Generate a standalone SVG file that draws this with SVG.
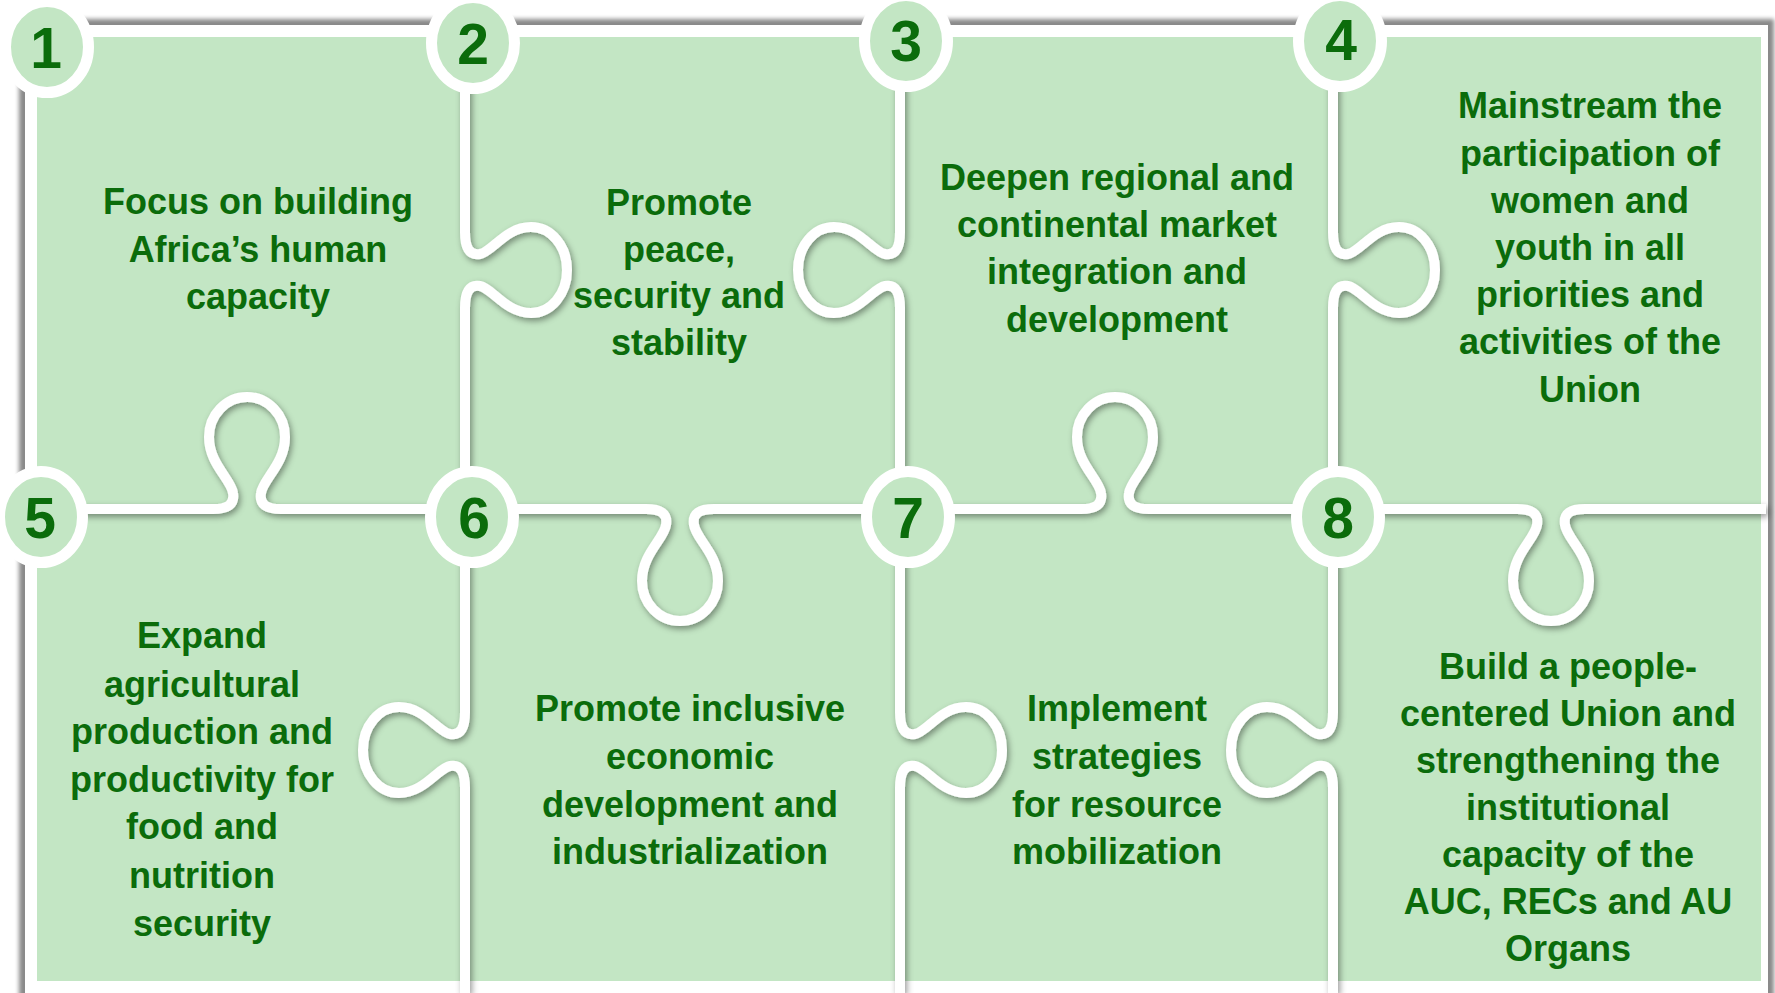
<svg xmlns="http://www.w3.org/2000/svg" width="1775" height="993" viewBox="0 0 1775 993">
<style>
.txt{font-family:"Liberation Sans",Arial,sans-serif;font-weight:bold;font-size:36px;fill:#0b6c0b;text-anchor:middle}
.num{font-family:"Liberation Sans",Arial,sans-serif;font-weight:bold;font-size:57px;fill:#0b6c0b;text-anchor:middle}
.badge{fill:#c3e6c4;stroke:#fff;stroke-width:11}
.seam{fill:none;stroke:#fff;stroke-width:10;stroke-linejoin:round;stroke-linecap:butt}
</style>
<defs>
<filter id="frameBlur" x="-5%" y="-5%" width="110%" height="110%">
<feGaussianBlur stdDeviation="2"/>
</filter>
<filter id="seamShadow" x="-5%" y="-5%" width="110%" height="110%">
<feDropShadow dx="2" dy="3" stdDeviation="3" flood-color="#000" flood-opacity="0.4"/>
</filter>
</defs>
<rect width="1775" height="993" fill="#fff"/>
<rect x="19" y="19" width="1755" height="1010" fill="#8a8a8a" filter="url(#frameBlur)"/>
<rect x="25" y="25" width="1743" height="1010" fill="#fff"/>
<rect x="37" y="37" width="1724" height="944" fill="#c3e6c4"/>

<g id="connectors" filter="url(#seamShadow)">
<path class="seam" d="M465 80 L465 232 C465 247 469 256 480 254 C492 252 506 227 531 227 C551 227 567 246 567 270 C567 294 551 313 531 313 C506 313 492 288 480 286 C469 284 465 293 465 308 L465 712 C465 727 461 736 450 734 C438 732 424 707 399 707 C379 707 363 726 363 750 C363 774 379 793 399 793 C424 793 438 768 450 766 C461 764 465 773 465 788 L465 993"/>
<path class="seam" d="M900 80 L900 232 C900 247 896 256 885 254 C873 252 859 227 834 227 C814 227 798 246 798 270 C798 294 814 313 834 313 C859 313 873 288 885 286 C896 284 900 293 900 308 L900 712 C900 727 904 736 915 734 C927 732 941 707 966 707 C986 707 1002 726 1002 750 C1002 774 986 793 966 793 C941 793 927 768 915 766 C904 764 900 773 900 788 L900 993"/>
<path class="seam" d="M1333 80 L1333 232 C1333 247 1337 256 1348 254 C1360 252 1374 227 1399 227 C1419 227 1435 246 1435 270 C1435 294 1419 313 1399 313 C1374 313 1360 288 1348 286 C1337 284 1333 293 1333 308 L1333 712 C1333 727 1329 736 1318 734 C1306 732 1292 707 1267 707 C1247 707 1231 726 1231 750 C1231 774 1247 793 1267 793 C1292 793 1306 768 1318 766 C1329 764 1333 773 1333 788 L1333 993"/>
<path class="seam" d="M30 509 L213 509 C227 509 235 505 233 493 C231 479 209 464 209 437 C209 415 226 397 247 397 C268 397 285 415 285 437 C285 464 263 479 261 493 C259 505 267 509 281 509 L646 509 C660 509 668 513 666 525 C664 539 642 554 642 581 C642 603 659 621 680 621 C701 621 718 603 718 581 C718 554 696 539 694 525 C692 513 700 509 714 509 L1081 509 C1095 509 1103 505 1101 493 C1099 479 1077 464 1077 437 C1077 415 1094 397 1115 397 C1136 397 1153 415 1153 437 C1153 464 1131 479 1129 493 C1127 505 1135 509 1149 509 L1517 509 C1531 509 1539 513 1537 525 C1535 539 1513 554 1513 581 C1513 603 1530 621 1551 621 C1572 621 1589 603 1589 581 C1589 554 1567 539 1565 525 C1563 513 1571 509 1585 509 L1766 509"/>
</g>

<g id="piece1">
<text class="txt"><tspan x="258" y="214">Focus on building</tspan><tspan x="258" y="262">Africa’s human</tspan><tspan x="258" y="309">capacity</tspan></text>
<ellipse class="badge" cx="47" cy="47" rx="41.5" ry="45.5"/>
<text class="num" x="46" y="68">1</text>
</g>
<g id="piece2">
<text class="txt"><tspan x="679" y="215">Promote</tspan><tspan x="679" y="262">peace,</tspan><tspan x="679" y="308">security and</tspan><tspan x="679" y="355">stability</tspan></text>
<ellipse class="badge" cx="473" cy="43" rx="41.5" ry="45.5"/>
<text class="num" x="473" y="64">2</text>
</g>
<g id="piece3">
<text class="txt"><tspan x="1117" y="190">Deepen regional and</tspan><tspan x="1117" y="237">continental market</tspan><tspan x="1117" y="284">integration and</tspan><tspan x="1117" y="332">development</tspan></text>
<ellipse class="badge" cx="906" cy="41" rx="41.5" ry="45.5"/>
<text class="num" x="906" y="61">3</text>
</g>
<g id="piece4">
<text class="txt"><tspan x="1590" y="118">Mainstream the</tspan><tspan x="1590" y="166">participation of</tspan><tspan x="1590" y="213">women and</tspan><tspan x="1590" y="260">youth in all</tspan><tspan x="1590" y="307">priorities and</tspan><tspan x="1590" y="354">activities of the</tspan><tspan x="1590" y="402">Union</tspan></text>
<ellipse class="badge" cx="1340" cy="41" rx="41.5" ry="45.5"/>
<text class="num" x="1341" y="60">4</text>
</g>
<g id="piece5">
<text class="txt"><tspan x="202" y="648">Expand</tspan><tspan x="202" y="697">agricultural</tspan><tspan x="202" y="744">production and</tspan><tspan x="202" y="792">productivity for</tspan><tspan x="202" y="839">food and</tspan><tspan x="202" y="888">nutrition</tspan><tspan x="202" y="936">security</tspan></text>
<ellipse class="badge" cx="41" cy="517" rx="41.5" ry="45.5"/>
<text class="num" x="40" y="538">5</text>
</g>
<g id="piece6">
<text class="txt"><tspan x="690" y="721">Promote inclusive</tspan><tspan x="690" y="769">economic</tspan><tspan x="690" y="817">development and</tspan><tspan x="690" y="864">industrialization</tspan></text>
<ellipse class="badge" cx="472" cy="517" rx="41.5" ry="45.5"/>
<text class="num" x="474" y="538">6</text>
</g>
<g id="piece7">
<text class="txt"><tspan x="1117" y="721">Implement</tspan><tspan x="1117" y="769">strategies</tspan><tspan x="1117" y="817">for resource</tspan><tspan x="1117" y="864">mobilization</tspan></text>
<ellipse class="badge" cx="908" cy="517" rx="41.5" ry="45.5"/>
<text class="num" x="908" y="538">7</text>
</g>
<g id="piece8">
<text class="txt"><tspan x="1568" y="679">Build a people-</tspan><tspan x="1568" y="726">centered Union and</tspan><tspan x="1568" y="773">strengthening the</tspan><tspan x="1568" y="820">institutional</tspan><tspan x="1568" y="867">capacity of the</tspan><tspan x="1568" y="914">AUC, RECs and AU</tspan><tspan x="1568" y="961">Organs</tspan></text>
<ellipse class="badge" cx="1338" cy="517" rx="41.5" ry="45.5"/>
<text class="num" x="1338" y="538">8</text>
</g>
</svg>
